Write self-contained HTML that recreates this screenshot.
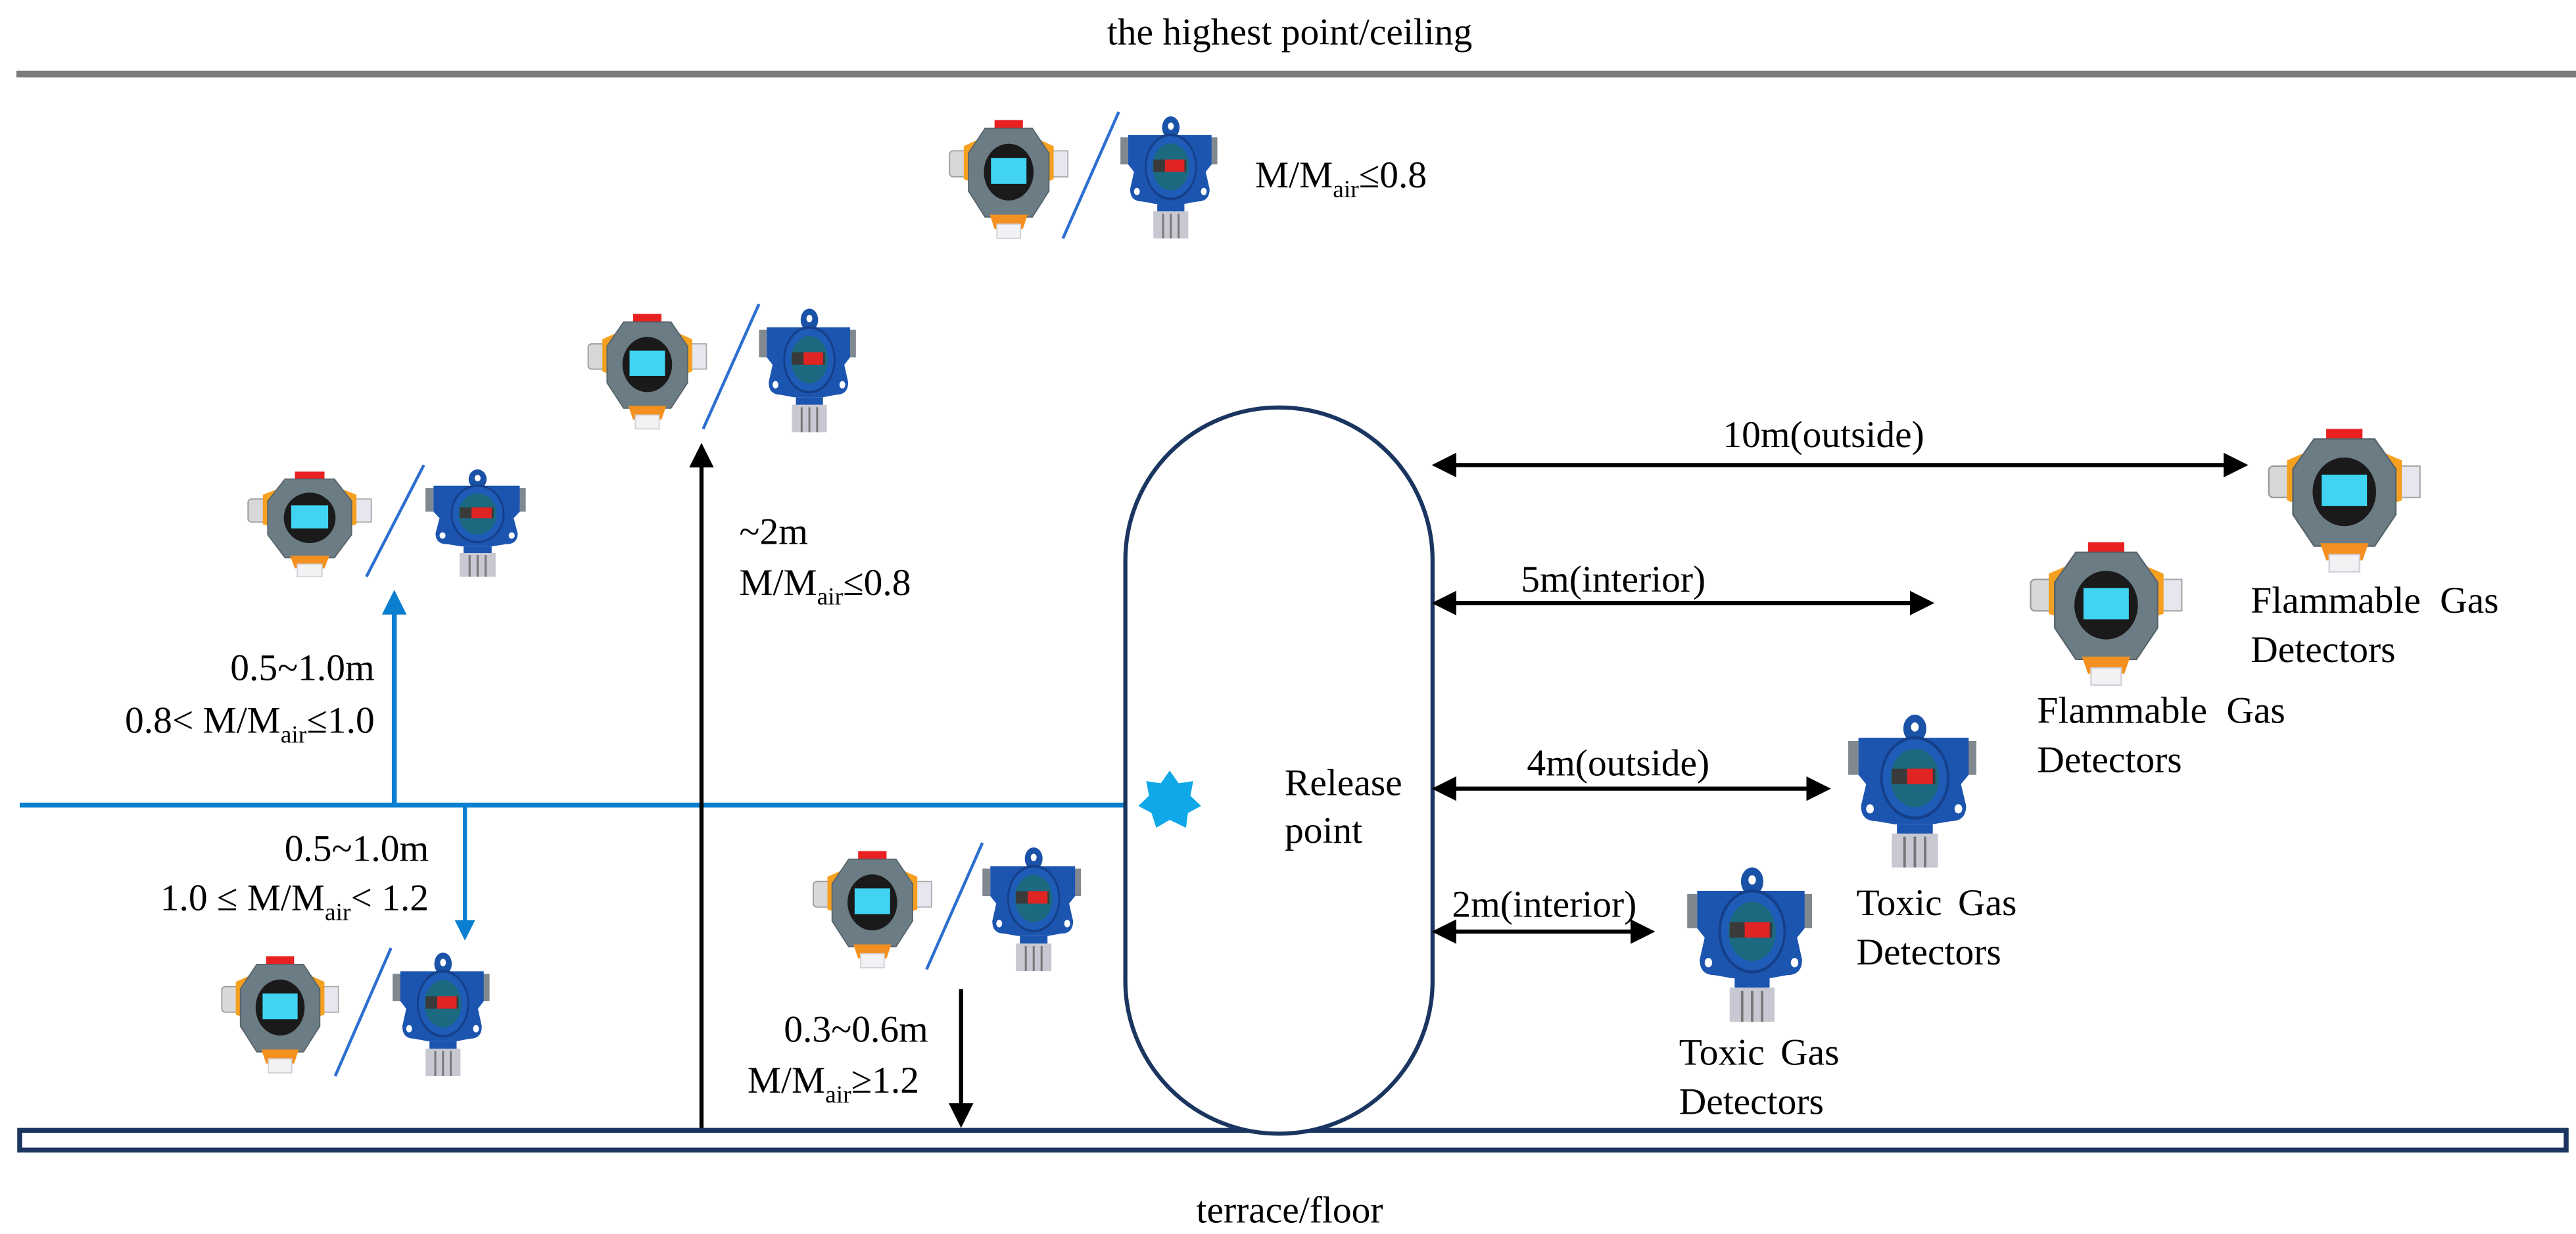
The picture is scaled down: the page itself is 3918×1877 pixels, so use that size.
<!DOCTYPE html>
<html><head><meta charset="utf-8"><style>html,body{margin:0;padding:0;background:#fff}svg{display:block}text{font-family:"Liberation Serif",serif}</style></head>
<body>
<svg width="3918" height="1877" viewBox="0 0 1568 751" xmlns="http://www.w3.org/2000/svg" style="font-family:'Liberation Serif',serif" font-size="23" fill="#000">
<defs>
<marker id="ab" markerWidth="6" markerHeight="6" refX="5" refY="3" orient="auto-start-reverse" markerUnits="strokeWidth"><path d="M0,0 L6,3 L0,6 z" fill="#000"/></marker>
<marker id="au" markerWidth="5" markerHeight="5" refX="4" refY="2.5" orient="auto" markerUnits="strokeWidth"><path d="M0,0 L5,2.5 L0,5 z" fill="#0a7fd0"/></marker>
<g id="fl">
<rect x="0" y="26" width="16" height="22" rx="3" fill="#d8d8d8" stroke="#999" stroke-width="1"/>
<rect x="84" y="26" width="16" height="22" fill="#e6e6ee" stroke="#aaa" stroke-width="1"/>
<path d="M12,22 L34,12 L66,12 L88,22 L88,50 L66,58 L34,58 L12,50z" fill="#f5a020"/>
<rect x="38" y="0" width="24" height="9" fill="#e82020"/>
<path d="M30,7 L70,7 L84,28 L84,60 L70,82 L30,82 L16,60 L16,28z" fill="#6c7c84" stroke="#55626a" stroke-width="1"/>
<ellipse cx="50" cy="44" rx="21" ry="24" fill="#1a1a1a"/>
<rect x="35" y="32" width="30" height="22" fill="#40d4f2"/>
<path d="M34,80 L66,80 L62,92 L38,92z" fill="#f39020"/>
<rect x="40" y="88" width="20" height="12" fill="#f2f2f4" stroke="#d0d0d8" stroke-width="1"/>
</g>
<g id="tx">
<circle cx="52" cy="10" r="9" fill="#1a52a8"/>
<circle cx="52" cy="9" r="3" fill="#fff"/>
<rect x="0" y="18" width="8" height="22" fill="#808890"/>
<rect x="92" y="18" width="8" height="22" fill="#808890"/>
<path d="M8,16 L94,16 L94,40 L88,46 L92,60 Q92,70 80,70 L66,72 L36,72 L22,70 Q10,70 10,60 L14,46 L8,40z" fill="#1c55b0"/>
<circle cx="17" cy="62" r="3" fill="#fff"/><circle cx="86" cy="62" r="3" fill="#fff"/>
<circle cx="52" cy="42" r="26" fill="#1e5cb8" stroke="#163f8a" stroke-width="2"/>
<circle cx="52" cy="42" r="19" fill="#1b6a80"/>
<rect x="34" y="36" width="34" height="10" fill="#3a3a3a"/>
<rect x="46" y="36" width="20" height="10" fill="#e02424"/>
<rect x="38" y="72" width="28" height="8" fill="#1c55b0"/>
<rect x="34" y="78" width="36" height="22" fill="#c8c8d2"/>
<path d="M44,80v20M52,80v20M60,80v20" stroke="#777" stroke-width="2"/>
</g>
</defs>

<text x="785" y="27" text-anchor="middle">the highest point/ceiling</text>
<line x1="10" y1="45" x2="1568" y2="45" stroke="#7b7b7b" stroke-width="4"/>

<!-- top pair -->
<use href="#fl" transform="translate(578,73) scale(0.72,0.72)"/>
<line x1="647" y1="145" x2="681" y2="68" stroke="#2d6fd0" stroke-width="1.8"/>
<use href="#tx" transform="translate(682,70) scale(0.59,0.75)"/>
<text x="764" y="114">M/M<tspan font-size="15" dy="6">air</tspan><tspan dy="-6">≤0.8</tspan></text>

<!-- pair 2 -->
<use href="#fl" transform="translate(358,191) scale(0.72,0.70)"/>
<line x1="428" y1="261" x2="462" y2="185" stroke="#2d6fd0" stroke-width="1.8"/>
<use href="#tx" transform="translate(462,187) scale(0.59,0.76)"/>

<!-- pair 3 -->
<use href="#fl" transform="translate(151,287) scale(0.75,0.64)"/>
<line x1="223" y1="351" x2="258" y2="283" stroke="#2d6fd0" stroke-width="1.8"/>
<use href="#tx" transform="translate(259,285) scale(0.61,0.66)"/>

<!-- blue lines -->
<line x1="12" y1="490" x2="695" y2="490" stroke="#0a7fd0" stroke-width="3"/>
<line x1="240" y1="490" x2="240" y2="362" stroke="#0a7fd0" stroke-width="3" marker-end="url(#au)"/>
<line x1="283" y1="490" x2="283" y2="570" stroke="#0a7fd0" stroke-width="2.5" marker-end="url(#au)"/>
<text x="228" y="414" text-anchor="end">0.5~1.0m</text>
<text x="228" y="446" text-anchor="end">0.8&lt; M/M<tspan font-size="15" dy="6">air</tspan><tspan dy="-6">≤1.0</tspan></text>
<text x="261" y="524" text-anchor="end">0.5~1.0m</text>
<text x="261" y="554" text-anchor="end">1.0 ≤ M/M<tspan font-size="15" dy="6">air</tspan><tspan dy="-6">&lt; 1.2</tspan></text>

<!-- pair 4 -->
<use href="#fl" transform="translate(135,582) scale(0.71,0.71)"/>
<line x1="204" y1="655" x2="238" y2="577" stroke="#2d6fd0" stroke-width="1.8"/>
<use href="#tx" transform="translate(239,579) scale(0.59,0.76)"/>

<!-- black vertical ~2m -->
<line x1="427" y1="692" x2="427" y2="272" stroke="#000" stroke-width="2.5" marker-end="url(#ab)"/>
<text x="450" y="331">~2m</text>
<text x="450" y="362">M/M<tspan font-size="15" dy="6">air</tspan><tspan dy="-6">≤0.8</tspan></text>

<!-- pair 5 -->
<use href="#fl" transform="translate(495,518) scale(0.72,0.71)"/>
<line x1="564" y1="590" x2="598" y2="513" stroke="#2d6fd0" stroke-width="1.8"/>
<use href="#tx" transform="translate(598,515) scale(0.60,0.76)"/>

<line x1="585" y1="602" x2="585" y2="684" stroke="#000" stroke-width="2.5" marker-end="url(#ab)"/>
<text x="565" y="634" text-anchor="end">0.3~0.6m</text>
<text x="455" y="665">M/M<tspan font-size="15" dy="6">air</tspan><tspan dy="-6">≥1.2</tspan></text>

<!-- floor -->
<rect x="12" y="688" width="1550" height="12" fill="#fff" stroke="#1a3560" stroke-width="3"/>
<text x="785" y="744" text-anchor="middle">terrace/floor</text>

<!-- tank -->
<rect x="685" y="248" width="187" height="442" rx="93" ry="93" fill="#fff" stroke="#1a3560" stroke-width="2.5"/>
<polygon points="712,469 717.4,476.7 726.3,475.4 724.6,484.3 731.1,490.5 723.1,494.8 721.9,503.8 712,499 703.8,503.8 700.9,494.8 692.9,490.5 699.4,484.3 697.7,475.4 706.6,476.7" fill="#10a8e8"/>
<text x="782" y="484">Release</text>
<text x="782" y="513">point</text>

<!-- horizontal arrows -->
<line x1="874" y1="283" x2="1366" y2="283" stroke="#000" stroke-width="2.5" marker-start="url(#ab)" marker-end="url(#ab)"/>
<text x="1110" y="272" text-anchor="middle">10m(outside)</text>
<line x1="874" y1="367" x2="1175" y2="367" stroke="#000" stroke-width="2.5" marker-start="url(#ab)" marker-end="url(#ab)"/>
<text x="982" y="360" text-anchor="middle">5m(interior)</text>
<line x1="874" y1="480" x2="1112" y2="480" stroke="#000" stroke-width="2.5" marker-start="url(#ab)" marker-end="url(#ab)"/>
<text x="985" y="472" text-anchor="middle">4m(outside)</text>
<line x1="874" y1="567" x2="1005" y2="567" stroke="#000" stroke-width="2.5" marker-start="url(#ab)" marker-end="url(#ab)"/>
<text x="940" y="558" text-anchor="middle">2m(interior)</text>

<!-- right detectors -->
<use href="#fl" transform="translate(1381,261) scale(0.92,0.87)"/>
<text x="1370" y="373" word-spacing="6">Flammable Gas</text>
<text x="1370" y="403">Detectors</text>
<use href="#fl" transform="translate(1236,330) scale(0.92,0.87)"/>
<text x="1240" y="440" word-spacing="6">Flammable Gas</text>
<text x="1240" y="470">Detectors</text>
<use href="#tx" transform="translate(1125,434) scale(0.78,0.94)"/>
<text x="1130" y="557" word-spacing="4">Toxic Gas</text>
<text x="1130" y="587">Detectors</text>
<use href="#tx" transform="translate(1027,527) scale(0.76,0.95)"/>
<text x="1022" y="648" word-spacing="4">Toxic Gas</text>
<text x="1022" y="678">Detectors</text>
</svg>
</body></html>
